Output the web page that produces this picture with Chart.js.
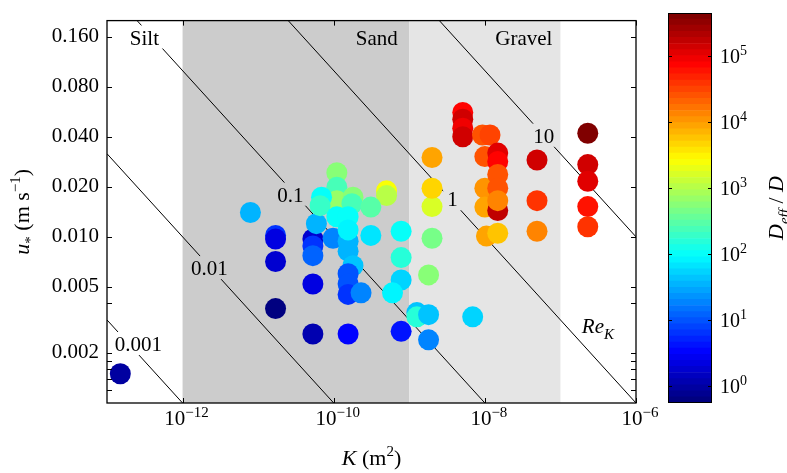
<!DOCTYPE html>
<html lang="en">
<head>
<meta charset="UTF-8">
<title>Effective dispersion against permeability and shear velocity</title>
<script src="https://cdn.jsdelivr.net/npm/chart.js@4"></script>
<style>
  html, body { margin: 0; padding: 0; background: #fff; }
  .wrap { position: relative; width: 787px; height: 473px; }
  #plot { position: absolute; left: 0; top: 0; }
  #cbar { position: absolute; left: 640px; top: 0; }
</style>
</head>
<body>
<div class="wrap">
  <canvas id="plot" width="787" height="473"></canvas>
  <canvas id="cbar" width="147" height="473"></canvas>
</div>

<script>
  // measured points: permeability K (m^2), shear velocity u* (m/s), D_eff/D
  const permeability = [
    1.5e-13, 7.9e-12, 1.7e-11, 1.7e-11, 1.7e-11, 1.7e-11,
    5.3e-11, 5.3e-11, 5.3e-11, 5.3e-11, 5.3e-11, 5.9e-11, 9.8e-11,
    1.55e-10, 1.55e-10, 1.55e-10, 1.8e-10, 1.55e-10, 1.55e-10, 1.55e-10, 2.3e-10,
    3.1e-10, 7.8e-10, 7.8e-10, 7.8e-10, 6.0e-10, 7.8e-10,
    1.26e-9, 1.26e-9, 1.8e-9, 1.8e-9, 6.9e-9, 1.8e-9,
    2.0e-9, 2.0e-9, 2.0e-9, 2.0e-9, 5.0e-10, 5.0e-10,
    1.1e-10, 1.1e-10, 1.1e-10, 6.9e-11, 6.6e-11, 1.8e-10, 1.74e-10, 3.1e-10,
    1.1e-10, 1.55e-10, 1.55e-10,
    5.1e-9, 5.1e-9, 5.1e-9, 5.1e-9, 9.3e-9, 1.17e-8,
    1.0e-8, 1.0e-8, 1.0e-8, 1.05e-8, 1.48e-8,
    1.48e-8, 1.48e-8, 1.48e-8, 1.48e-8, 1.48e-8, 1.48e-8,
    4.9e-8, 4.9e-8, 4.9e-8,
    2.3e-7, 2.3e-7, 2.3e-7, 2.3e-7, 2.3e-7
  ];
  const shearVelocity = [
    0.0015, 0.014, 0.0102, 0.0097, 0.0071, 0.0037,
    0.0097, 0.0088, 0.0077, 0.0052, 0.0026, 0.012, 0.0098,
    0.0026, 0.0094, 0.0082, 0.0067, 0.0060, 0.0052, 0.0045, 0.0046,
    0.0102, 0.0108, 0.0075, 0.0055, 0.0046, 0.0027,
    0.0035, 0.0033, 0.0034, 0.0024, 0.0033, 0.0059,
    0.0098, 0.0152, 0.0196, 0.030, 0.0189, 0.0177,
    0.0243, 0.0199, 0.0165, 0.0173, 0.0154, 0.0173, 0.0158, 0.0151,
    0.0132, 0.0132, 0.011,
    0.056, 0.051, 0.045, 0.040, 0.041, 0.041,
    0.0304, 0.0196, 0.0151, 0.0101, 0.0105,
    0.0144, 0.0319, 0.0284, 0.0237, 0.0196, 0.0165,
    0.029, 0.0165, 0.0108,
    0.042, 0.0272, 0.0216, 0.0152, 0.0115
  ];
  const dispersionRatio = [
    0.8, 32, 6.3, 2.1, 1.6, 0.55,
    1.6, 6.3, 11, 2.1, 0.95, 32, 19,
    2.8, 37, 32, 43, 8.3, 8.3, 6.3, 19,
    65, 91, 145, 56, 74, 3.7,
    43, 145, 43, 19, 56, 500,
    450, 1500, 4400, 8700, 2700, 1100,
    500, 250, 740, 91, 190, 500, 250, 290,
    98, 91, 74,
    81000, 150000, 100000, 150000, 30000, 34000,
    26000, 11000, 9800, 9800, 5700,
    170000, 130000, 81000, 30000, 26000, 15000,
    150000, 45000, 15000,
    446000, 150000, 115000, 66000, 45000
  ];

  // iso-lines of the permeability Reynolds number Re_K = u* sqrt(K) / nu
  const reynoldsLevels = [0.001, 0.01, 0.1, 1, 10];
  const reynoldsText = ['0.001', '0.01', '0.1', '1', '10'];
  const kinematicViscosity = 1e-6;

  // sediment classes along K
  const sedimentClasses = ['Silt', 'Sand', 'Gravel'];
  const classBounds = [1e-13, 1e-12, 1e-9, 1e-7];
  const classShades = ['#ffffff', '#cccccc', '#e5e5e5'];

  // axes
  const xTicks = [1e-12, 1e-10, 1e-8, 1e-6];
  const yTicks = [0.002, 0.005, 0.01, 0.02, 0.04, 0.08, 0.16];
  const yMinorTicks = [0.0012, 0.0014, 0.0016, 0.0018, 0.004];
  const colorTicks = [1, 10, 100, 1000, 1e4, 1e5];
  const colorLogMin = -0.26, colorLogMax = 5.65;

  // text annotations (data coordinates of label centres)
  const reLabelK = [2.6e-13, 2.27e-12, 2.67e-11, 3.72e-9, 6.0e-8];
  const reLabelU = [0.00226, 0.00647, 0.0179, 0.0168, 0.0405];
  const classLabelK = [3.13e-13, 3.72e-10, 3.28e-8];
  const classLabelU = 0.158;
  const reTitleK = 3.13e-7, reTitleU = 0.00284;

  const SERIF = '"Liberation Serif", "Times New Roman", serif';

  const jetAt = t => {
    const c = v => Math.round(255 * Math.min(1, Math.max(0, v)));
    return `rgb(${c(1.5 - Math.abs(4 * t - 3))},${c(1.5 - Math.abs(4 * t - 2))},${c(1.5 - Math.abs(4 * t - 1))})`;
  };
  const colorFor = d => {
    const t = (Math.log10(d) - colorLogMin) / (colorLogMax - colorLogMin);
    return jetAt(Math.round(Math.min(1, Math.max(0, t)) * 63) / 63);
  };

  // text with italic / super- / subscript runs
  function drawRich(ctx, parts, x, y, size, align) {
    const fontOf = p => `${p.it ? 'italic ' : ''}${(p.sup || p.sub) ? Math.round(size * 0.7) : size}px ${SERIF}`;
    let total = 0;
    const widths = parts.map(p => { ctx.font = fontOf(p); const w = ctx.measureText(p.t).width; total += w; return w; });
    let cx = align === 'center' ? x - total / 2 : align === 'right' ? x - total : x;
    ctx.textAlign = 'left';
    ctx.textBaseline = 'alphabetic';
    ctx.fillStyle = '#000';
    parts.forEach((p, i) => {
      ctx.font = fontOf(p);
      const dy = p.sup ? -size * 0.4 : p.sub ? size * 0.28 : 0;
      ctx.fillText(p.t, cx, y + dy);
      cx += widths[i];
    });
    return total;
  }

  const shadeAt = k => {
    for (let i = 0; i < sedimentClasses.length; i++) {
      if (k >= classBounds[i] && k < classBounds[i + 1]) return classShades[i];
    }
    return '#ffffff';
  };

  // label with a patch of the local background behind it (cuts the iso-lines)
  function boxedLabel(ctx, chart, parts, k, u, size) {
    const {x, y} = chart.scales;
    const px = x.getPixelForValue(k), py = y.getPixelForValue(u);
    let w = 0;
    parts.forEach(p => { ctx.font = `${p.it ? 'italic ' : ''}${size}px ${SERIF}`; w += ctx.measureText(p.t).width; });
    const base = py + size * 0.33;
    ctx.fillStyle = shadeAt(k);
    ctx.fillRect(px - w / 2 - 4, base - size * 0.72 - 4, w + 8, size * 0.72 + 8);
    drawRich(ctx, parts, px, base, size, 'center');
  }

  const decor = {
    id: 'decor',
    beforeDatasetsDraw(chart) {
      const {ctx, chartArea: a, scales: {x}} = chart;
      ctx.save();
      for (let i = 0; i < sedimentClasses.length; i++) {
        const x0 = x.getPixelForValue(classBounds[i]);
        const x1 = x.getPixelForValue(classBounds[i + 1]);
        ctx.fillStyle = classShades[i];
        ctx.fillRect(x0, a.top, x1 - x0, a.bottom - a.top);
      }
      ctx.restore();
    },
    beforeDatasetDraw(chart, args) {
      if (args.index !== 0) return;
      const ctx = chart.ctx;
      ctx.save();
      reynoldsLevels.forEach((re, i) => boxedLabel(ctx, chart, [{t: reynoldsText[i]}], reLabelK[i], reLabelU[i], 21));
      sedimentClasses.forEach((name, i) => boxedLabel(ctx, chart, [{t: name}], classLabelK[i], classLabelU, 21));
      const px = chart.scales.x.getPixelForValue(reTitleK), py = chart.scales.y.getPixelForValue(reTitleU);
      drawRich(ctx, [{t: 'Re', it: true}, {t: 'K', it: true, sub: true}], px, py + 5, 21, 'center');
      ctx.restore();
    },
    afterDraw(chart) {
      const {ctx, chartArea: a, scales: {x, y}} = chart;
      ctx.save();
      ctx.strokeStyle = '#000';
      ctx.lineWidth = 1;
      ctx.beginPath();
      xTicks.forEach(v => {
        const px = Math.round(x.getPixelForValue(v)) + 0.5;
        ctx.moveTo(px, a.bottom); ctx.lineTo(px, a.bottom - 5);
        ctx.moveTo(px, a.top); ctx.lineTo(px, a.top + 5);
      });
      yTicks.concat(yMinorTicks).forEach(v => {
        const py = Math.round(y.getPixelForValue(v)) + 0.5;
        ctx.moveTo(a.left, py); ctx.lineTo(a.left + 5, py);
        ctx.moveTo(a.right, py); ctx.lineTo(a.right - 5, py);
      });
      ctx.stroke();
      ctx.lineWidth = 1.3;
      ctx.strokeRect(a.left, a.top, a.right - a.left, a.bottom - a.top);

      xTicks.forEach(v => {
        const exp = Math.round(Math.log10(v));
        drawRich(ctx, [{t: '10'}, {t: '\u2212' + Math.abs(exp), sup: true}], x.getPixelForValue(v) + 4, a.bottom + 22, 21, 'center');
      });
      drawRich(ctx, [{t: 'K', it: true}, {t: ' (m'}, {t: '2', sup: true}, {t: ')'}], (a.left + a.right) / 2, 465, 22, 'center');

      ctx.translate(29, (a.top + a.bottom) / 2);
      ctx.rotate(-Math.PI / 2);
      drawRich(ctx, [{t: 'u', it: true}, {t: '*', sub: true}, {t: ' (m s'}, {t: '\u22121', sup: true}, {t: ')'}], 0, 0, 22, 'center');
      ctx.restore();
    }
  };

  const pointColors = dispersionRatio.map(colorFor);

  const reLines = reynoldsLevels.map(re => ({
    type: 'line',
    order: 1,
    data: [classBounds[0], 1e-6].map(k => ({x: k, y: re * kinematicViscosity / Math.sqrt(k)})),
    borderColor: '#000',
    borderWidth: 1,
    pointRadius: 0,
    fill: false
  }));

  new Chart(document.getElementById('plot'), {
    type: 'scatter',
    data: {
      datasets: [{
        order: 0,
        data: permeability.map((k, i) => ({x: k, y: shearVelocity[i]})),
        backgroundColor: pointColors,
        pointRadius: 10.5,
        pointHoverRadius: 10.5,
        borderWidth: 0
      }].concat(reLines)
    },
    options: {
      responsive: false,
      animation: false,
      devicePixelRatio: 1,
      layout: { padding: { top: 13, right: 151, left: 0, bottom: 0 } },
      plugins: { legend: { display: false }, tooltip: { enabled: false } },
      scales: {
        x: {
          type: 'logarithmic',
          min: 1e-13, max: 1e-6,
          grid: { display: false },
          border: { display: false },
          ticks: { display: false },
          afterFit: s => { s.height = 70; }
        },
        y: {
          type: 'logarithmic',
          position: 'left',
          min: 0.001, max: 0.2,
          grid: { display: false, drawTicks: false },
          border: { display: false },
          afterBuildTicks: s => { s.ticks = yTicks.map(v => ({value: v})); },
          ticks: {
            autoSkip: false,
            padding: 8,
            color: '#000',
            font: { family: SERIF, size: 21 },
            callback: v => v.toFixed(3)
          },
          afterFit: s => { s.width = 107; }
        }
      }
    },
    plugins: [decor]
  });

  // colour bar: 64 jet bands as floating bars on a log axis
  const bandCount = 64;
  const bands = [];
  for (let i = 0; i < bandCount; i++) {
    const lo = Math.pow(10, colorLogMin + (colorLogMax - colorLogMin) * i / bandCount);
    const hi = Math.pow(10, colorLogMin + (colorLogMax - colorLogMin) * (i + 1) / bandCount);
    bands.push({
      data: [[lo, hi]],
      backgroundColor: jetAt(i / (bandCount - 1)),
      borderWidth: 0,
      grouped: false,
      barPercentage: 1,
      categoryPercentage: 1
    });
  }

  const colorbarDecor = {
    id: 'colorbarDecor',
    afterDraw(chart) {
      const {ctx, chartArea: a, scales: {y}} = chart;
      ctx.save();
      ctx.strokeStyle = '#000';
      ctx.lineWidth = 1;
      ctx.beginPath();
      colorTicks.forEach(v => {
        const py = Math.round(y.getPixelForValue(v)) + 0.5;
        ctx.moveTo(a.left, py); ctx.lineTo(a.left + 4, py);
        ctx.moveTo(a.right, py); ctx.lineTo(a.right - 4, py);
      });
      ctx.stroke();
      ctx.strokeRect(a.left + 0.5, a.top + 0.5, a.right - a.left - 1, a.bottom - a.top - 1);
      colorTicks.forEach(v => {
        drawRich(ctx, [{t: '10'}, {t: String(Math.round(Math.log10(v))), sup: true}], a.right + 8, y.getPixelForValue(v) + 7, 20, 'left');
      });
      ctx.translate(143, (a.top + a.bottom) / 2);
      ctx.rotate(-Math.PI / 2);
      drawRich(ctx, [{t: 'D', it: true}, {t: 'eff', it: true, sub: true}, {t: ' / '}, {t: 'D', it: true}], 0, 0, 22, 'center');
      ctx.restore();
    }
  };

  new Chart(document.getElementById('cbar'), {
    type: 'bar',
    data: { labels: ['cb'], datasets: bands },
    options: {
      responsive: false,
      animation: false,
      devicePixelRatio: 1,
      layout: { padding: { left: 28, right: 75, top: 13, bottom: 70 } },
      plugins: { legend: { display: false }, tooltip: { enabled: false } },
      scales: {
        x: { display: false },
        y: {
          type: 'logarithmic',
          display: false,
          min: Math.pow(10, colorLogMin),
          max: Math.pow(10, colorLogMax)
        }
      }
    },
    plugins: [colorbarDecor]
  });
</script>
</body>
</html>
